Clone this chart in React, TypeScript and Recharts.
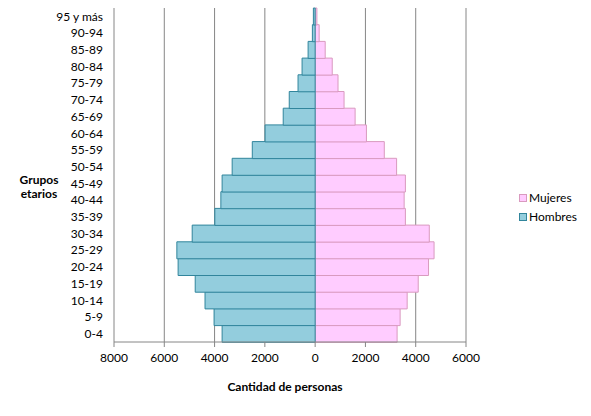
import React from 'react';
import { BarChart, Bar, XAxis, YAxis, CartesianGrid, Legend } from 'recharts';

const ageGroups = ['0-4', '5-9', '10-14', '15-19', '20-24', '25-29', '30-34', '35-39', '40-44', '45-49', '50-54', '55-59', '60-64', '65-69', '70-74', '75-79', '80-84', '85-89', '90-94', '95 y más'];
const hombres = [3700, 4020, 4380, 4770, 5450, 5500, 4890, 3990, 3750, 3700, 3300, 2500, 1990, 1270, 1030, 680, 520, 280, 110, 70];
const mujeres = [3260, 3380, 3660, 4100, 4510, 4730, 4540, 3590, 3540, 3590, 3240, 2750, 2040, 1590, 1150, 910, 680, 400, 160, 70];
const xTicks = [-8000, -6000, -4000, -2000, 0, 2000, 4000, 6000];

const data = ageGroups.map((age, i) => ({ age, hombres: -hombres[i], mujeres: mujeres[i] }));

const FONT = 'Lato, "Noto Sans", sans-serif';
const FS = 12;

const legendItems = [
  { name: 'Mujeres', fill: '#FFCCFF', stroke: '#D99ABF' },
  { name: 'Hombres', fill: '#93CDDD', stroke: '#31859C' },
];

const renderLegend = () => (
  <div style={{ fontFamily: FONT, fontSize: FS, color: '#000' }}>
    {legendItems.map((it) => (
      <div key={it.name} style={{ display: 'flex', alignItems: 'center', height: 19 }}>
        <span style={{ display: 'inline-block', width: 6, height: 6, background: it.fill, border: `1px solid ${it.stroke}`, marginRight: 2 }} />
        <span>{it.name}</span>
      </div>
    ))}
  </div>
);

const yLabel = () => (
  <g>
    <text x={39} y={184} textAnchor="middle" fontFamily={FONT} fontSize={FS} fontWeight="bold" fill="#000">Grupos</text>
    <text x={39} y={198} textAnchor="middle" fontFamily={FONT} fontSize={FS} fontWeight="bold" fill="#000">etarios</text>
  </g>
);

export default function App() {
  return (
    <div style={{ position: 'absolute', left: 0, top: 0, width: 591, height: 416, background: '#fff', fontFamily: FONT }}>
      <BarChart
        width={591}
        height={416}
        data={data}
        layout="vertical"
        margin={{ top: 8, right: 125, bottom: 0, left: 0 }}
        barCategoryGap={0}
        stackOffset="sign"
      >
        <CartesianGrid horizontal={false} vertical stroke="#868686" />
        <XAxis
          type="number"
          domain={[-8000, 6000]}
          ticks={xTicks}
          tickFormatter={(v: number) => String(Math.abs(v))}
          height={74}
          stroke="#868686"
          tickSize={5}
          tickMargin={6}
          tick={{ fontSize: FS, fill: '#000', fontFamily: FONT }}
          label={{ value: 'Cantidad de personas', position: 'insideBottom', offset: 25, dx: -5, fontSize: FS, fontWeight: 'bold', fill: '#000', fontFamily: FONT }}
        />
        <YAxis
          type="category"
          dataKey="age"
          width={114}
          reversed
          interval={0}
          tickLine={false}
          axisLine={false}
          tickMargin={5}
          tick={{ fontSize: FS, fill: '#000', fontFamily: FONT }}
          label={{ content: yLabel }}
        />
        <Legend
          content={renderLegend}
          layout="horizontal"
          align="center"
          verticalAlign="middle"
          wrapperStyle={{ left: 519, top: 188, width: 80 }}
        />
        <Bar dataKey="mujeres" name="Mujeres" stackId="a" fill="#FFCCFF" stroke="#D99ABF" strokeWidth={1} isAnimationActive={false} />
        <Bar dataKey="hombres" name="Hombres" stackId="a" fill="#93CDDD" stroke="#31859C" strokeWidth={1} isAnimationActive={false} />
      </BarChart>
    </div>
  );
}
